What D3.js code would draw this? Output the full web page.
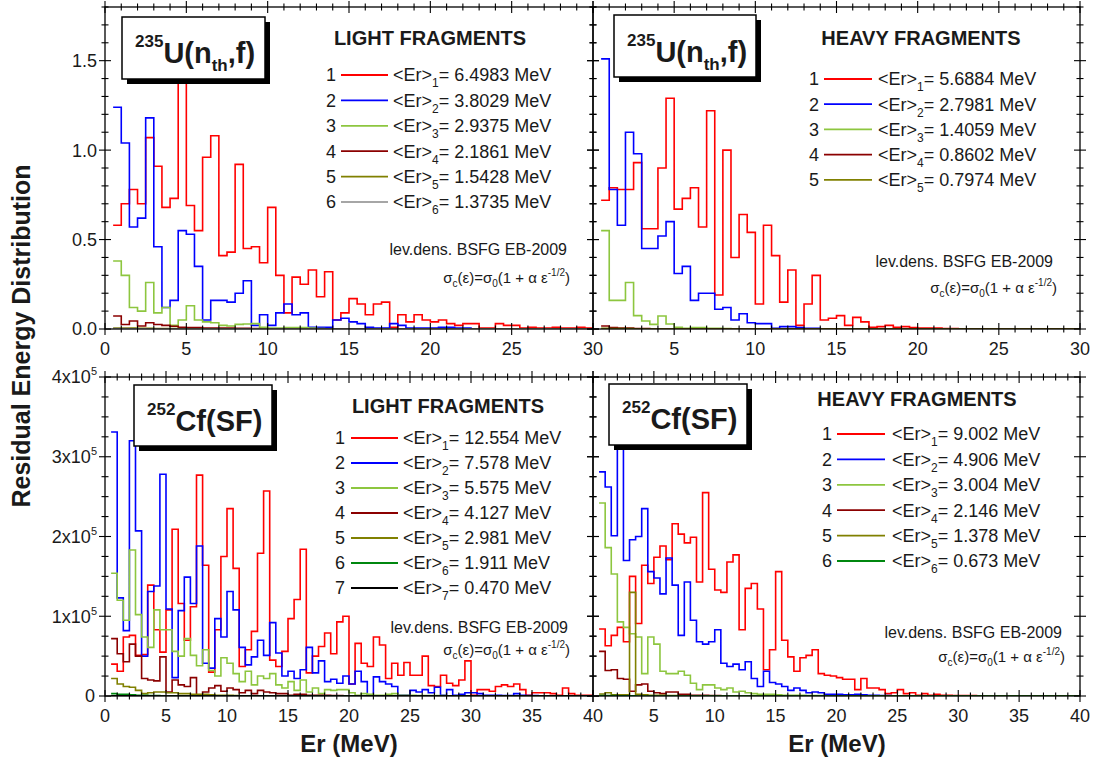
<!DOCTYPE html>
<html>
<head>
<meta charset="utf-8">
<script src="https://cdn.jsdelivr.net/npm/d3@7"></script>
<style>
  body { margin: 0; background: #fff; }
  svg text { font-family: "Liberation Sans", Arial, sans-serif; fill: #1a1a1a; }
</style>
</head>
<body>
<div id="chart"></div>
<script>
// histogram bins: 0.5 MeV wide, first bin starts at 0.5 MeV
const binStart = 0.5;
const binWidth = 0.5;

// ---- 235U(nth,f), light fragments ----
const uLightRed = [
  0.58, 0.70, 0.78, 0.70, 1.07, 0.91, 0.68, 0.73, 1.60, 0.69,
  0.55, 0.96, 1.08, 0.41, 0.43, 0.92, 0.45, 0.46, 0.37, 0.68,
  0.30, 0.09, 0.29, 0.25, 0.33, 0.18, 0.32, 0.05, 0.09, 0.17,
  0.14, 0.08, 0.14, 0.15, 0.01, 0.08, 0.04, 0.08, 0.05, 0.04,
  0.05, 0.03, 0.02, 0.03, 0.03, 0.005, 0.005, 0.03, 0.02, 0.02,
  0.005, 0.01, 0.005, 0.005, 0.01, 0.005, 0.005, 0.01, 0.005];
const uLightBlue = [
  1.24, 1.04, 0.57, 0.62, 1.18, 0.46, 0.12, 0.16, 0.55, 0.53,
  0.35, 0.05, 0.16, 0.16, 0.15, 0.20, 0.27, 0.02, 0.08, 0.02,
  0.09, 0.14, 0.08, 0.09, 0.01, 0.01, 0.01, 0.05, 0.06, 0.04,
  0.03, 0.01, 0.005, 0.005, 0.03, 0.02, 0.005, 0.005, 0.005, 0.005,
  0.01, 0.01, 0.005, 0.005];
const uLightGreen = [
  0.38, 0.30, 0.12, 0.10, 0.26, 0.09, 0.12, 0.02, 0.05, 0.13,
  0.05, 0.04, 0.035, 0.02, 0.017, 0.026, 0.028, 0.03, 0.01, 0.005,
  0.005, 0.008, 0.008, 0.008, 0.005, 0.003];
const uLightDarkRed = [
  0.073, 0.025, 0.045, 0.017, 0.035, 0.025, 0.02, 0.015, 0.01, 0.008,
  0.008, 0.005, 0.005, 0.005, 0.005, 0.004, 0.004, 0.003];
const uLightOlive = [0.006, 0.005, 0.005, 0.004, 0.004, 0.003, 0.003, 0.002];
const uLightGray = [0.002, 0.002, 0.001, 0.001];
const uLightMeans = ['6.4983', '3.8029', '2.9375', '2.1861', '1.5428', '1.3735'];

// ---- 235U(nth,f), heavy fragments ----
const uHeavyRed = [
  0.72, 0.79, 0.78, 0.78, 0.93, 0.56, 0.56, 0.90, 1.29, 0.67,
  0.73, 0.79, 0.57, 1.22, 0.19, 1.00, 0.40, 0.64, 0.54, 0.14,
  0.58, 0.41, 0.15, 0.33, 0.02, 0.14, 0.30, 0.05, 0.06, 0.075,
  0.02, 0.065, 0.04, 0.01, 0.013, 0.02, 0.01, 0.013, 0.008, 0.005,
  0.005, 0.005, 0.003, 0.003];
const uHeavyBlue = [
  1.51, 0.78, 0.58, 1.10, 0.98, 0.45, 0.45, 0.52, 0.60, 0.31,
  0.35, 0.16, 0.20, 0.20, 0.11, 0.12, 0.05, 0.085, 0.035, 0.03,
  0.03, 0.004, 0.013, 0.013, 0.008, 0.004, 0.004];
const uHeavyGreen = [
  0.55, 0.16, 0.16, 0.26, 0.075, 0.045, 0.026, 0.073, 0.028, 0.01,
  0.004, 0.008, 0.008, 0.004, 0.004, 0.003];
const uHeavyDarkRed = [0.017, 0.008, 0.005, 0.005, 0.003, 0.003];
const uHeavyOlive = [0.004, 0.003, 0.003, 0.002];
const uHeavyMeans = ['5.6884', '2.7981', '1.4059', '0.8602', '0.7974'];

// ---- 252Cf(SF), light fragments (units of 1e5) ----
const cfLightRed = [
  0.40, 0.31, 0.74, 0.76, 0.51, 0.52, 1.39, 0.83, 0.55, 1.08,
  2.09, 1.16, 0.70, 1.12, 2.77, 1.64, 0.30, 0.83, 1.75, 2.35,
  1.60, 0.37, 0.58, 0.81, 1.79, 2.57, 0.45, 0.37, 0.56, 0.97,
  1.21, 1.84, 0.29, 0.50, 0.62, 0.79, 0.53, 0.93, 1.00, 0.15,
  0.66, 0.41, 0.37, 0.74, 0.64, 0.22, 0.41, 0.26, 0.42, 0.26,
  0.26, 0.50, 0.13, 0.12, 0.26, 0.16, 0.13, 0.20, 0.44, 0.01,
  0.08, 0.08, 0.06, 0.12, 0.14, 0.12, 0.15, 0.08, 0.01, 0.04,
  0.04, 0.04, 0.03, 0.01, 0.10, 0.03, 0.01, 0.01, 0.01];
const cfLightBlue = [
  3.31, 1.23, 0.82, 3.20, 2.07, 0.50, 1.31, 1.38, 2.78, 1.09,
  0.23, 1.07, 1.49, 1.16, 1.88, 0.41, 0.35, 0.97, 0.74, 1.31,
  1.08, 0.61, 0.39, 0.49, 0.70, 0.51, 0.92, 0.54, 0.25, 0.31,
  0.22, 0.33, 0.61, 0.29, 0.44, 0.18, 0.21, 0.16, 0.25, 0.15,
  0.31, 0.18, 0.01, 0.24, 0.18, 0.15, 0.12, 0.01, 0.01, 0.07,
  0.05, 0.08, 0.04, 0.11, 0.01, 0.08, 0.01, 0.02, 0.04, 0.04,
  0.03, 0.01, 0.01, 0.01, 0.005, 0.005, 0.03, 0.01, 0.005, 0.005];
const cfLightGreen = [
  1.54, 1.20, 0.95, 1.83, 1.02, 0.74, 0.61, 1.08, 0.83, 0.83,
  0.56, 0.50, 0.72, 0.51, 0.38, 0.58, 0.32, 0.25, 0.48, 0.41,
  0.28, 0.18, 0.31, 0.14, 0.25, 0.22, 0.28, 0.14, 0.10, 0.18,
  0.07, 0.20, 0.05, 0.10, 0.03, 0.08, 0.07, 0.08, 0.08, 0.04,
  0.01, 0.03, 0.02, 0.01, 0.01, 0.02, 0.03, 0.01, 0.01, 0.01,
  0.005, 0.005, 0.005, 0.005, 0.005];
const cfLightDarkRed = [
  0.72, 0.53, 0.43, 0.65, 0.50, 0.22, 0.20, 0.19, 0.49, 0.05,
  0.20, 0.14, 0.12, 0.23, 0.01, 0.05, 0.10, 0.13, 0.06, 0.10,
  0.08, 0.04, 0.07, 0.03, 0.07, 0.05, 0.04, 0.03, 0.03, 0.01,
  0.02, 0.02, 0.01, 0.01, 0.01, 0.01, 0.005, 0.005];
const cfLightOlive = [
  0.22, 0.15, 0.12, 0.11, 0.07, 0.03, 0.04, 0.05, 0.05, 0.04,
  0.04, 0.03, 0.03, 0.02, 0.02, 0.02, 0.015, 0.01, 0.01, 0.01, 0.005];
const cfLightDarkGreen = [0.03, 0.02, 0.02, 0.015, 0.01, 0.01, 0.005, 0.005];
const cfLightBlack = [0.003, 0.002, 0.002, 0.001];
const cfLightMeans = ['12.554', '7.578', '5.575', '4.127', '2.981', '1.911', '0.470'];

// ---- 252Cf(SF), heavy fragments (units of 1e5) ----
const cfHeavyRed = [
  0.84, 0.63, 0.76, 0.86, 0.68, 1.50, 0.91, 1.64, 1.41, 1.74,
  1.88, 1.71, 2.16, 2.03, 1.92, 1.99, 1.43, 2.55, 1.59, 1.33,
  1.30, 1.68, 1.77, 0.83, 1.35, 1.41, 1.09, 0.33, 0.58, 1.56,
  0.70, 0.49, 0.31, 0.48, 0.51, 0.58, 0.28, 0.26, 0.25, 0.23,
  0.21, 0.21, 0.08, 0.22, 0.10, 0.10, 0.08, 0.03, 0.04, 0.08,
  0.03, 0.04, 0.01, 0.03, 0.01, 0.02, 0.01, 0.01, 0.005, 0.005,
  0.005, 0.005, 0.003];
const cfHeavyBlue = [
  2.81, 2.62, 2.01, 3.30, 1.70, 1.96, 2.00, 2.35, 1.56, 1.48,
  1.28, 1.73, 1.39, 0.76, 1.43, 0.95, 0.68, 0.65, 0.68, 0.83,
  0.41, 0.37, 0.40, 0.33, 0.43, 0.22, 0.12, 0.31, 0.17, 0.15,
  0.12, 0.07, 0.10, 0.07, 0.04, 0.05, 0.04, 0.02, 0.02, 0.02,
  0.015, 0.015, 0.02, 0.015, 0.01, 0.01, 0.005, 0.005];
const cfHeavyGreen = [
  2.42, 1.86, 1.53, 0.93, 0.86, 0.78, 0.74, 0.28, 0.74, 0.65,
  0.31, 0.28, 0.28, 0.31, 0.26, 0.16, 0.08, 0.14, 0.14, 0.10,
  0.08, 0.10, 0.05, 0.06, 0.04, 0.03, 0.02, 0.02, 0.02, 0.015,
  0.01, 0.01, 0.01, 0.01, 0.005, 0.005, 0.005];
const cfHeavyDarkRed = [
  0.56, 0.32, 0.33, 0.22, 0.21, 0.06, 0.14, 0.15, 0.06, 0.04,
  0.03, 0.05, 0.05, 0.02, 0.02, 0.01, 0.01, 0.01, 0.005, 0.005];
const cfHeavyOlive = [
  0.025, 0.04, 0.015, 0.015, 0.015, 1.30, 0.02, 0.015, 0.01, 0.01,
  0.01, 0.005, 0.005];
const cfHeavyDarkGreen = [0.006, 0.006, 0.005, 0.004, 0.003, 0.003];
const cfHeavyMeans = ['9.002', '4.906', '3.004', '2.146', '1.378', '0.673'];

const colors = {
  red: '#ff0000', blue: '#0000ff', green: '#8dc63f', darkRed: '#8b0000',
  olive: '#808000', gray: '#a6a6a6', darkGreen: '#00870f', black: '#000000'
};

const width = 1094, height = 758;
const svg = d3.select('#chart').append('svg')
  .attr('width', width).attr('height', height);

const panels = [
  {
    x0: 105, x1: 593, y0: 7, y1: 329, xMax: 30, yMax: 1.8, yMinor: 0.1, yMajor: 0.5,
    yLabels: true, skipZero: false, kind: 'u',
    series: [uLightRed, uLightBlue, uLightGreen, uLightDarkRed, uLightOlive, uLightGray],
    cols: ['red', 'blue', 'green', 'darkRed', 'olive', 'gray'],
    means: uLightMeans, title: 'LIGHT FRAGMENTS', titleX: 430, titleY: 45,
    box: [122, 17, 143, 62], boxText: [135, 63],
    leg: { num: 336, l1: 341, l2: 388, tx: 393, y: 75, dy: 25.4 },
    lev: [567, 255], form: [570, 283]
  },
  {
    x0: 593, x1: 1080, y0: 7, y1: 329, xMax: 30, yMax: 1.8, yMinor: 0.1, yMajor: 0.5,
    yLabels: false, skipZero: true, kind: 'u',
    series: [uHeavyRed, uHeavyBlue, uHeavyGreen, uHeavyDarkRed, uHeavyOlive],
    cols: ['red', 'blue', 'green', 'darkRed', 'olive'],
    means: uHeavyMeans, title: 'HEAVY FRAGMENTS', titleX: 921, titleY: 45,
    box: [614, 15, 142, 62], boxText: [627, 62],
    leg: { num: 819, l1: 824, l2: 872, tx: 878, y: 79, dy: 25.2 },
    lev: [1053, 267], form: [1057, 293]
  },
  {
    x0: 105, x1: 593, y0: 377, y1: 696, xMax: 40, yMax: 4, yMinor: 0.25, yMajor: 1,
    yLabels: true, skipZero: false, kind: 'cf',
    series: [cfLightRed, cfLightBlue, cfLightGreen, cfLightDarkRed, cfLightOlive, cfLightDarkGreen, cfLightBlack],
    cols: ['red', 'blue', 'green', 'darkRed', 'olive', 'darkGreen', 'black'],
    means: cfLightMeans, title: 'LIGHT FRAGMENTS', titleX: 448, titleY: 413,
    box: [134, 385, 138, 61], boxText: [147, 431],
    leg: { num: 345, l1: 351, l2: 398, tx: 403, y: 438, dy: 25 },
    lev: [568, 633], form: [570, 655]
  },
  {
    x0: 593, x1: 1080, y0: 377, y1: 696, xMax: 40, yMax: 4, yMinor: 0.25, yMajor: 1,
    yLabels: false, skipZero: true, kind: 'cf',
    series: [cfHeavyRed, cfHeavyBlue, cfHeavyGreen, cfHeavyDarkRed, cfHeavyOlive, cfHeavyDarkGreen],
    cols: ['red', 'blue', 'green', 'darkRed', 'olive', 'darkGreen'],
    means: cfHeavyMeans, title: 'HEAVY FRAGMENTS', titleX: 917, titleY: 406,
    box: [609, 384, 138, 61], boxText: [622, 429],
    leg: { num: 832, l1: 837, l2: 885, tx: 892, y: 434, dy: 25.4 },
    lev: [1062, 638], form: [1065, 662]
  }
];

panels.forEach((p, pi) => {
  const x = d3.scaleLinear().domain([0, p.xMax]).range([p.x0, p.x1]);
  const y = d3.scaleLinear().domain([0, p.yMax]).range([p.y1, p.y0]);
  const g = svg.append('g');

  g.append('clipPath').attr('id', 'clip' + pi)
    .append('rect').attr('x', p.x0).attr('y', p.y0)
    .attr('width', p.x1 - p.x0).attr('height', p.y1 - p.y0);

  // histograms, empty bins up to the end of the axis count as zero
  const nBins = Math.round((p.xMax - binStart) / binWidth);
  const line = d3.line().curve(d3.curveStepAfter)
    .x((d) => x(d[0])).y((d) => y(d[1]));
  p.series.forEach((vals, si) => {
    const pts = [];
    for (let i = 0; i < nBins; i++) {
      pts.push([binStart + i * binWidth, i < vals.length ? vals[i] : 0]);
    }
    pts.push([binStart + nBins * binWidth, pts[pts.length - 1][1]]);
    g.append('path')
      .attr('clip-path', `url(#clip${pi})`)
      .attr('d', line(pts))
      .attr('fill', 'none')
      .attr('stroke', colors[p.cols[si]])
      .attr('stroke-width', 1.6);
  });

  // frame
  g.append('rect')
    .attr('x', p.x0).attr('y', p.y0)
    .attr('width', p.x1 - p.x0).attr('height', p.y1 - p.y0)
    .attr('fill', 'none').attr('stroke', '#000').attr('stroke-width', 1.3);

  // ticks on all four sides, crossing the frame
  const xMajor = d3.range(0, p.xMax + 0.001, 5);
  const xMinor = d3.range(0, p.xMax + 0.001, 1).filter((v) => v % 5 !== 0);
  const yMajor = d3.range(0, p.yMax + 0.001, p.yMajor);
  const yMinor = d3.range(0, p.yMax + 0.001, p.yMinor)
    .filter((v) => Math.abs(v / p.yMajor - Math.round(v / p.yMajor)) > 1e-6);
  const ticks = g.append('g').attr('stroke', '#000').attr('stroke-width', 1.1);
  [[xMajor, 6], [xMinor, 3.5]].forEach(([vals, len]) => {
    vals.forEach((v) => {
      ticks.append('line').attr('x1', x(v)).attr('x2', x(v))
        .attr('y1', p.y1 - len).attr('y2', p.y1 + len);
      ticks.append('line').attr('x1', x(v)).attr('x2', x(v))
        .attr('y1', p.y0 - len).attr('y2', p.y0 + len);
    });
  });
  [[yMajor, 6], [yMinor, 3.5]].forEach(([vals, len]) => {
    vals.forEach((v) => {
      ticks.append('line').attr('y1', y(v)).attr('y2', y(v))
        .attr('x1', p.x0 - len).attr('x2', p.x0 + len);
      ticks.append('line').attr('y1', y(v)).attr('y2', y(v))
        .attr('x1', p.x1 - len).attr('x2', p.x1 + len);
    });
  });

  // x tick labels
  g.selectAll('.xl').data(xMajor.filter((v) => !(p.skipZero && v === 0)))
    .enter().append('text')
    .attr('x', (d) => x(d)).attr('y', p.y1 + 26)
    .attr('text-anchor', 'middle').attr('font-size', 18)
    .text((d) => d);

  // y tick labels
  if (p.yLabels) {
    yMajor.forEach((v) => {
      const t = g.append('text')
        .attr('x', p.x0 - 8).attr('y', y(v)).attr('dy', '0.36em')
        .attr('text-anchor', 'end').attr('font-size', 18);
      if (p.kind === 'u') {
        t.text(d3.format('.1f')(v));
      } else if (v === 0) {
        t.attr('x', p.x0 - 10).text('0');
      } else {
        t.append('tspan').text(v + 'x10');
        t.append('tspan').attr('font-size', 11).attr('dy', -8).text('5');
      }
    });
  }

  // label box with shadow
  const [bx, by, bw, bh] = p.box;
  g.append('rect').attr('x', bx + 5).attr('y', by + 5)
    .attr('width', bw).attr('height', bh).attr('fill', '#000');
  g.append('rect').attr('x', bx).attr('y', by)
    .attr('width', bw).attr('height', bh)
    .attr('fill', '#fff').attr('stroke', '#000').attr('stroke-width', 1.5);
  const bt = g.append('text')
    .attr('x', p.boxText[0]).attr('y', p.boxText[1])
    .attr('font-weight', 'bold');
  if (p.kind === 'u') {
    bt.append('tspan').attr('font-size', 17).attr('dy', -16).text('235');
    bt.append('tspan').attr('font-size', 29).attr('dy', 16).text('U(n');
    bt.append('tspan').attr('font-size', 17).attr('dy', 8).text('th');
    bt.append('tspan').attr('font-size', 29).attr('dy', -8).text(',f)');
  } else {
    bt.append('tspan').attr('font-size', 17).attr('dy', -16).text('252');
    bt.append('tspan').attr('font-size', 29).attr('dy', 16).text('Cf(SF)');
  }

  // title
  g.append('text').attr('x', p.titleX).attr('y', p.titleY)
    .attr('text-anchor', 'middle').attr('font-size', 20)
    .attr('font-weight', 'bold').text(p.title);

  // legend
  p.means.forEach((m, i) => {
    const cy = p.leg.y + i * p.leg.dy;
    g.append('text').attr('x', p.leg.num).attr('y', cy).attr('dy', '0.36em')
      .attr('text-anchor', 'end').attr('font-size', 18).text(i + 1);
    g.append('line').attr('x1', p.leg.l1).attr('x2', p.leg.l2)
      .attr('y1', cy).attr('y2', cy)
      .attr('stroke', colors[p.cols[i]]).attr('stroke-width', 1.8);
    const t = g.append('text').attr('x', p.leg.tx).attr('y', cy).attr('dy', '0.36em')
      .attr('font-size', 18);
    t.append('tspan').text('<Er>');
    t.append('tspan').attr('font-size', 12).attr('dy', 6).text(i + 1);
    t.append('tspan').attr('dy', -6).text('= ' + m + ' MeV');
  });

  // level density notes
  g.append('text').attr('x', p.lev[0]).attr('y', p.lev[1])
    .attr('text-anchor', 'end').attr('font-size', 16)
    .text('lev.dens. BSFG EB-2009');
  const f = g.append('text').attr('x', p.form[0]).attr('y', p.form[1])
    .attr('text-anchor', 'end').attr('font-size', 15);
  f.append('tspan').text('σ');
  f.append('tspan').attr('font-size', 10).attr('dy', 4).text('c');
  f.append('tspan').attr('dy', -4).text('(ε)=σ');
  f.append('tspan').attr('font-size', 10).attr('dy', 4).text('0');
  f.append('tspan').attr('dy', -4).text('(1 + α ε');
  f.append('tspan').attr('font-size', 10).attr('dy', -7).text('-1/2');
  f.append('tspan').attr('dy', 7).text(')');
});

// axis titles
svg.append('text')
  .attr('transform', 'translate(30,336) rotate(-90)')
  .attr('text-anchor', 'middle').attr('font-size', 25).attr('font-weight', 'bold')
  .text('Residual Energy Distribution');
[349, 837].forEach((cx) => {
  svg.append('text').attr('x', cx).attr('y', 752)
    .attr('text-anchor', 'middle').attr('font-size', 24).attr('font-weight', 'bold')
    .text('Er (MeV)');
});
</script>
</body>
</html>
